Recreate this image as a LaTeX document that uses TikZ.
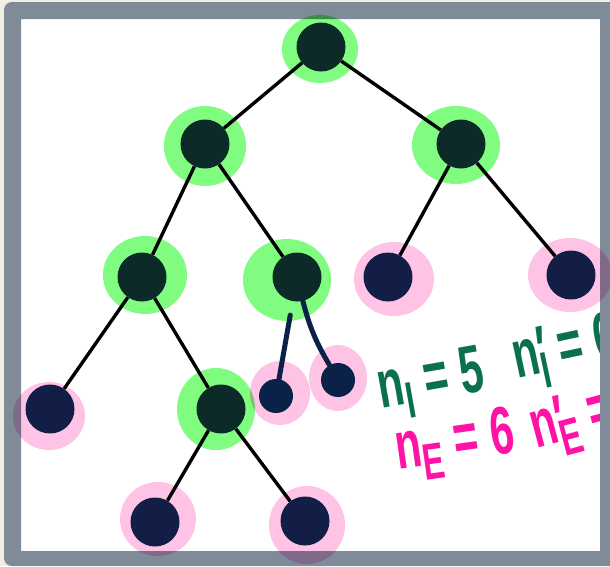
\documentclass[tikz,border=0pt]{standalone}
\usepackage{fontspec}
\setmainfont{Liberation Sans}
\usepackage{graphicx}
\usetikzlibrary{positioning}

\definecolor{paper}{HTML}{F1EEE2}
\definecolor{framegray}{HTML}{7F8B99}
\definecolor{hlgreen}{HTML}{80FC80}
\definecolor{hlpink}{HTML}{FFC3E6}
\definecolor{innerfill}{HTML}{0B2A28}
\definecolor{leaffill}{HTML}{121E46}
\definecolor{inkblue}{HTML}{0A2148}
\definecolor{inkgreen}{HTML}{0B7050}
\definecolor{inkpink}{HTML}{FF12A6}

% tall, narrow marker lettering
\newcommand{\hand}[1]{\scalebox{0.85}[1.35]{\bfseries #1}}
\newcommand{\lowidx}[1]{\raisebox{-0.22em}{\fontsize{38}{38}\selectfont #1}}

\begin{document}
\begin{tikzpicture}[x=1pt, y=-1pt,
    inner/.style={circle, fill=innerfill, minimum size=49pt, inner sep=0pt},
    leaf/.style={circle, fill=leaffill, minimum size=49pt, inner sep=0pt},
    tiny/.style={circle, fill=inkblue, minimum size=34pt, inner sep=0pt},
    edge/.style={line width=3.4pt, black},
    ink/.style={line width=5pt, inkblue, line cap=round},
    greenhl/.style={fill=hlgreen, blend mode=multiply},
    pinkhl/.style={fill=hlpink, blend mode=multiply},
    count/.style={font=\fontsize{50}{50}\selectfont, inner sep=0pt}]
  \useasboundingbox (0,0) rectangle (610,566);
  \fill[paper] (0,0) rectangle (610,566);
  \fill[white] (21,19) rectangle (600,551);

  % counts
  \node[count, text=inkgreen, rotate=10] (nI)  at (431,384) {\hand{n\lowidx{I} = 5}};
  \node[count, text=inkgreen, rotate=12] (nIp) at (566,352) {\hand{n\rlap{′}\lowidx{I} = 6}};
  \node[count, text=inkpink, rotate=8]   (nE)  at (455,445) {\hand{n\lowidx{E} = 6}};
  \node[count, text=inkpink, rotate=15]  (nEp) at (590,418) {\hand{n\rlap{′}\lowidx{E} = 7}};

  % frame
  \fill[framegray, even odd rule] [rounded corners=8pt] (4,2) rectangle (625,566)
       [sharp corners] (21,19) rectangle (600,551);

  % highlighter marks
  \fill[greenhl] (320,49)  ellipse [x radius=38, y radius=34];
  \fill[greenhl] (205,146) ellipse [x radius=41, y radius=40];
  \fill[greenhl] (456,145) ellipse [x radius=44, y radius=39];
  \fill[greenhl] (145,275) ellipse [x radius=42, y radius=39];
  \fill[greenhl] (287,280) ellipse [x radius=44, y radius=41];
  \fill[greenhl] (216,409) ellipse [x radius=39, y radius=41];
  \fill[pinkhl] (394,279) ellipse [x radius=40, y radius=37];
  \fill[pinkhl] (570,275) ellipse [x radius=42, y radius=37];
  \fill[pinkhl] (49,416)  ellipse [x radius=36, y radius=34];
  \fill[pinkhl] (280,393) ellipse [x radius=30, y radius=32];
  \fill[pinkhl] (338,378) ellipse [x radius=29, y radius=33];
  \fill[pinkhl] (158,519) ellipse [x radius=38, y radius=37];
  \fill[pinkhl] (307,525) ellipse [x radius=38, y radius=39];

  % tree
  \node[inner] (root) at (321,47)  {};
  \node[inner] (L)    at (205,144) {};
  \node[inner] (R)    at (461,144) {};
  \node[inner] (LL)   at (142,277) {};
  \node[inner] (LR)   at (297,277) {};
  \node[leaf]  (RL)   at (388,277) {};
  \node[leaf]  (RR)   at (571,275) {};
  \node[leaf]  (LLL)  at (50,409)  {};
  \node[inner] (LLR)  at (221,409) {};
  \node[leaf]  (LLRL) at (155,522) {};
  \node[leaf]  (LLRR) at (305,521) {};
  \node[tiny]  (s1)   at (276,396) {};
  \node[tiny]  (s2)   at (338,380) {};

  \draw[edge] (root) -- (L);
  \draw[edge] (root) -- (R);
  \draw[edge] (L) -- (LL);
  \draw[edge] (L) -- (LR);
  \draw[edge] (R) -- (RL);
  \draw[edge] (R) -- (RR);
  \draw[edge] (LL) -- (LLL);
  \draw[edge] (LL) -- (LLR);
  \draw[edge] (LLR) -- (LLRL);
  \draw[edge] (LLR) -- (LLRR);

  % added by hand
  \draw[ink, shorten <=14pt] (LR) -- (s1);
  \draw[ink] (LR) to[bend right=8] (s2);
\end{tikzpicture}
\end{document}
